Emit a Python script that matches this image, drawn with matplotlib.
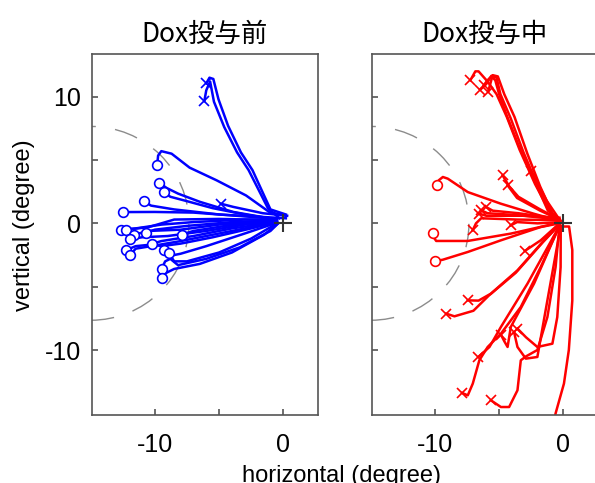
import matplotlib.pyplot as plt
from matplotlib.patches import Arc

plt.rcParams['font.family'] = ['Liberation Sans', 'DejaVu Sans']
plt.rcParams['axes.unicode_minus'] = False

titles = ['Dox投与前', 'Dox投与中']
colors = ['#0000ff', '#ff0000']
xlim = (-14.9, 2.7)
ylim = (-15.13, 13.37)

# eye traces (degree); last point carries the end marker
pre_traces = [
    [(0.2, 0.7), (-1.0, 1.1), (-2.4, 4.2), (-3.3, 5.6), (-4.3, 7.7), (-5.05, 9.8), (-5.45, 11.4), (-5.75, 11.5), (-6.0, 11.05)],
    [(-0.3, 0.4), (-1.2, 1.2), (-2.7, 4.2), (-3.6, 5.6), (-4.6, 7.6), (-5.4, 9.6), (-5.7, 11.2), (-6.0, 10.5), (-6.15, 9.65)],
    [(0.2, 0.6), (-1.1, 0.9), (-2.9, 2.2), (-5.2, 3.4), (-7.3, 4.4), (-8.7, 5.5), (-9.5, 5.7), (-9.75, 5.35), (-9.82, 4.63)],
    [(0.3, 0.6), (-1.6, 0.8), (-3.9, 1.3), (-4.86, 1.55)],
    [(-0.5, 0.3), (-3.9, 0.9), (-6.5, 1.7), (-8.2, 2.35), (-9.1, 2.8), (-9.66, 3.21)],
    [(-0.5, 0.3), (-3.0, 0.7), (-5.5, 1.2), (-7.5, 1.75), (-8.8, 2.1), (-9.30, 2.47)],
    [(0.2, 0.4), (-5.0, 0.7), (-8.5, 1.1), (-10.3, 1.4), (-10.88, 1.76)],
    [(-0.5, 0.35), (-3.0, 0.55), (-7.0, 0.85), (-10.0, 0.9), (-12.47, 0.89)],
    [(-0.5, 0.3), (-3.0, 0.3), (-7.0, 0.1), (-9.5, -0.1), (-11.5, -0.4), (-12.67, -0.5)],
    [(-0.5, 0.25), (-5.0, 0.35), (-8.5, 0.3), (-10.5, -0.3), (-12.26, -0.5)],
    [(-0.5, 0.2), (-5.0, -0.1), (-8.0, -0.5), (-10.5, -0.6), (-11.61, -0.89)],
    [(-0.5, 0.2), (-4.0, 0.1), (-7.5, -0.2), (-10.0, -0.5), (-10.72, -0.73)],
    [(-0.5, 0.15), (-4.5, -0.2), (-7.0, -0.6), (-7.92, -0.89)],
    [(-0.5, 0.15), (-3.0, -0.1), (-6.0, -0.6), (-9.0, -1.0), (-11.0, -1.1), (-11.95, -1.26)],
    [(-0.5, 0.1), (-4.0, -0.4), (-7.0, -1.0), (-9.5, -1.4), (-10.5, -1.7), (-11.5, -1.8), (-12.28, -2.13)],
    [(-0.5, 0.1), (-5.0, -0.8), (-8.0, -1.4), (-10.0, -1.75), (-11.5, -2.0), (-11.95, -2.53)],
    [(-0.5, 0.1), (-2.5, -0.4), (-5.5, -1.1), (-8.0, -1.6), (-9.5, -1.8), (-10.21, -1.66)],
    [(-0.5, 0.05), (-3.0, -0.8), (-6.0, -1.8), (-8.0, -2.4), (-9.0, -2.6), (-9.30, -2.13)],
    [(-0.5, 0.0), (-2.5, -1.2), (-5.0, -2.3), (-7.5, -3.0), (-8.5, -3.0), (-8.91, -2.34)],
    [(-0.4, 0.0), (-1.0, -0.6), (-3.4, -1.9), (-6.0, -2.8), (-8.2, -3.3), (-8.8, -2.8), (-9.2, -3.0), (-9.48, -3.58)],
    [(-0.4, 0.0), (-1.5, -0.9), (-4.0, -2.3), (-6.5, -3.2), (-8.5, -3.6), (-9.1, -3.9), (-9.48, -4.29)],
]
pre_ends = ['x', 'x', 'o', 'x'] + ['o'] * 17

dur_traces = [
    [(-0.2, 0.2), (-0.85, 0.8), (-1.8, 2.9), (-2.8, 5.5), (-3.8, 8.4), (-4.6, 10.2), (-5.1, 11.6), (-5.5, 11.7), (-5.85, 10.4)],
    [(-0.2, 0.2), (-1.0, 0.9), (-2.0, 3.0), (-3.1, 5.6), (-4.1, 8.3), (-4.9, 10.2), (-5.2, 11.5), (-5.6, 11.65), (-6.0, 11.0), (-6.47, 10.55)],
    [(-0.3, 0.2), (-1.1, 1.0), (-2.2, 3.1), (-3.4, 5.8), (-4.4, 8.4), (-5.2, 10.2), (-5.9, 11.2), (-6.6, 12.0), (-6.85, 12.0), (-7.24, 11.3)],
    [(-0.3, 0.3), (-1.2, 1.0), (-2.3, 3.5), (-3.5, 6.2), (-4.4, 8.5), (-5.0, 10.2), (-5.3, 11.3), (-5.6, 11.6), (-5.9, 11.3), (-6.2, 10.9)],
    [(-0.3, 0.3), (-1.3, 1.8), (-2.5, 4.1)],
    [(-0.3, 0.3), (-1.8, 1.1), (-3.5, 2.1), (-4.2, 2.9), (-4.5, 3.4), (-4.73, 3.79)],
    [(-0.3, 0.3), (-1.8, 1.0), (-3.6, 2.0), (-4.34, 3.0)],
    [(-0.3, 0.2), (-2.3, 0.76), (-4.86, 1.55), (-7.44, 2.47), (-9.0, 3.53), (-9.38, 3.66), (-9.7, 3.4), (-9.82, 3.0)],
    [(-0.3, 0.3), (-3.6, 0.65), (-5.9, 0.8), (-6.41, 1.03)],
    [(-0.3, 0.35), (-3.5, 0.8), (-5.5, 1.0), (-6.02, 1.29)],
    [(-0.3, 0.45), (-3.0, 0.6), (-6.0, 0.6), (-6.54, 0.76)],
    [(-0.3, 0.25), (-3.6, 0.3), (-6.4, 0.4), (-6.8, 0.0), (-7.06, -0.55)],
    [(-0.3, 0.1), (-2.0, 0.0), (-3.6, 0.1), (-4.09, -0.16)],
    [(-0.3, 0.1), (-1.24, -0.16), (-4.09, -0.81), (-7.44, -1.39), (-9.9, -1.39), (-10.1, -1.1), (-10.16, -0.74)],
    [(-0.3, 0.0), (-1.76, -0.29), (-4.86, -1.34), (-7.44, -2.26), (-9.38, -2.87), (-10.03, -3.0)],
    [(-0.3, 0.0), (-1.76, -1.34), (-3.0, -2.18)],
    [(-0.3, -0.1), (-1.5, -1.34), (-3.57, -3.71), (-5.64, -5.55), (-6.6, -6.1), (-7.44, -6.08)],
    [(-0.3, -0.1), (-1.6, -1.5), (-3.7, -3.9), (-5.8, -5.7), (-7.0, -6.9), (-8.48, -7.34), (-9.12, -7.13)],
    [(-0.3, -0.2), (-1.76, -3.45), (-3.31, -6.6), (-4.86, -8.71), (-5.89, -9.76), (-6.54, -10.81), (-7.05, -12.65), (-7.44, -13.58), (-7.88, -13.39)],
    [(-0.3, -0.2), (-0.6, -3.45), (-1.24, -7.4), (-2.02, -10.0), (-2.9, -10.5), (-3.31, -10.81), (-3.57, -13.18), (-4.22, -14.5), (-4.86, -14.5), (-5.64, -13.97)],
    [(-0.2, -0.2), (-0.21, -3.45), (-0.47, -7.4), (-0.85, -9.5), (-2.02, -9.76), (-2.9, -9.0), (-3.57, -8.31)],
    [(-0.2, -0.2), (-1.24, -6.08), (-2.02, -10.55), (-2.92, -10.68), (-3.57, -9.76), (-3.83, -8.6)],
    [(-0.3, -0.2), (-2.28, -4.76), (-4.09, -8.18), (-4.34, -9.76), (-4.6, -9.3), (-4.86, -8.79)],
    [(-0.3, -0.2), (-2.79, -4.76), (-4.86, -8.18), (-5.75, -9.76), (-6.62, -10.55)],
    [(0.15, -0.25), (0.45, -0.25), (0.7, -2.1), (0.7, -6.1), (0.43, -10.0), (0.05, -12.65), (-0.6, -15.0), (-0.8, -16.0)],
]
dur_ends = ['x'] * 7 + ['o'] + ['x'] * 5 + ['o', 'o'] + ['x'] * 9 + [None]

fig = plt.figure(figsize=(5.95, 4.83), dpi=100)
ax1 = fig.add_axes([0.1546, 0.1408, 0.3798, 0.7474])
ax2 = fig.add_axes([0.6252, 0.1408, 0.3798, 0.7474])

for ax, title, col, traces, ends in [(ax1, titles[0], colors[0], pre_traces, pre_ends),
                                     (ax2, titles[1], colors[1], dur_traces, dur_ends)]:
    # dashed reference circle
    ax.add_patch(Arc((-15, 0), 15.3, 15.3, theta1=-90, theta2=90, color='#8c8c8c',
                     lw=1, ls=(0, (17, 14)), zorder=1))
    for tr, end in zip(traces, ends):
        xs = [p[0] for p in tr]
        ys = [p[1] for p in tr]
        ax.plot(xs, ys, color=col, lw=1.8, zorder=2)
        if end == 'o':
            ax.plot(xs[-1], ys[-1], marker='o', ms=7, mfc='white', mec=col, mew=1.2, zorder=3)
        elif end == 'x':
            ax.plot(xs[-1], ys[-1], marker='x', ms=7, mec=col, mew=1.2, zorder=3)
    ax.plot(0, 0, marker='+', ms=13, mew=1.5, color='#333333', zorder=4)

    ax.set_xlim(*xlim)
    ax.set_ylim(*ylim)
    ax.set_xticks([-10, 0])
    ax.set_xticks([-5], minor=True)
    ax.set_yticks([-10, 0, 10])
    ax.set_yticks([-5, 5], minor=True)
    ax.tick_params(which='both', direction='in', length=4, width=1.2, color='#555555',
                   labelsize=18, top=False, right=False)
    ax.tick_params(axis='x', which='both', pad=13)
    ax.tick_params(axis='y', which='both', pad=8)
    for sp in ax.spines.values():
        sp.set_color('#555555')
        sp.set_linewidth(1.2)
    ax.set_title(title, fontsize=19, pad=9, family=['Noto Sans CJK JP', 'DejaVu Sans'])

ax2.tick_params(axis='y', labelleft=False)

fig.text(341 / 595, 0.003, 'horizontal (degree)', fontsize=17, ha='center', va='baseline')
fig.text(24 / 595, 1 - 225 / 483, 'vertical (degree)', fontsize=17, ha='center', va='center',
         rotation=90)

fig.savefig('out.png', dpi=100)
